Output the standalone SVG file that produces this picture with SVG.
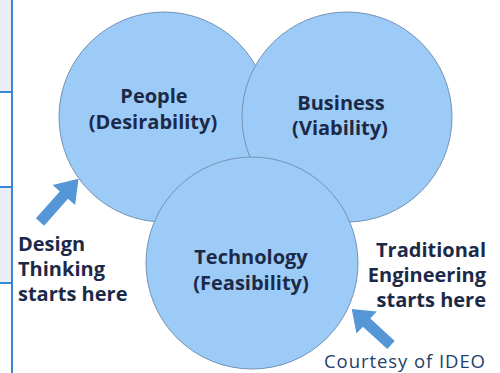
<svg xmlns="http://www.w3.org/2000/svg" width="500" height="373" viewBox="0 0 500 373">
  <style>
    .circle { fill: #9dcbf8; stroke: #7392b2; stroke-width: 1; }
    .lbl { font-family: "Open Sans", "Liberation Sans", sans-serif; font-weight: 700; font-size: 20px; fill: #1c2a48; }
    .mid { text-anchor: middle; }
    .end { text-anchor: end; }
    .credit { font-family: "Open Sans", "Liberation Sans", sans-serif; font-size: 18.5px; fill: #23406e; }
    .arrow { fill: #5596d6; }
    .panel { fill: #e8edf6; }
    .rule { stroke: #3a86d4; stroke-width: 2; fill: none; }
  </style>
  <defs>
    <polygon id="blockArrow" points="0,-5.5 36,-5.5 36,-15 58,0 36,15 36,5.5 0,5.5"/>
  </defs>

  <g id="side-panel">
    <rect class="panel" x="0" y="0" width="12" height="92"/>
    <rect class="panel" x="0" y="187" width="12" height="96"/>
    <line class="rule" x1="0" y1="92" x2="12" y2="92"/>
    <line class="rule" x1="0" y1="187" x2="12" y2="187"/>
    <line class="rule" x1="0" y1="283" x2="12" y2="283"/>
    <line class="rule" x1="12" y1="0" x2="12" y2="373"/>
  </g>

  <g id="people">
    <circle class="circle" cx="164" cy="117" r="105"/>
    <text class="lbl mid" x="154" y="103">People</text>
    <text class="lbl mid" x="153" y="129">(Desirability)</text>
  </g>

  <g id="business">
    <circle class="circle" cx="347" cy="117" r="105"/>
    <text class="lbl mid" x="341" y="110">Business</text>
    <text class="lbl mid" x="340" y="135">(Viability)</text>
  </g>

  <g id="technology">
    <circle class="circle" cx="252" cy="263" r="106"/>
    <text class="lbl mid" x="251" y="264">Technology</text>
    <text class="lbl mid" x="251" y="290">(Feasibility)</text>
  </g>

  <g id="connectors">
    <use href="#blockArrow" class="arrow" transform="translate(40,222) rotate(-48.4)"/>
    <use href="#blockArrow" class="arrow" transform="translate(391,345) rotate(-137.4) scale(0.92,1)"/>
  </g>

  <g id="design-thinking">
    <text class="lbl" x="18" y="251">Design</text>
    <text class="lbl" x="18" y="276">Thinking</text>
    <text class="lbl" x="18" y="301">starts here</text>
  </g>

  <g id="traditional-engineering">
    <text class="lbl end" x="486" y="257">Traditional</text>
    <text class="lbl end" x="486" y="282">Engineering</text>
    <text class="lbl end" x="486" y="307">starts here</text>
  </g>

  <g id="credit">
    <text class="credit" x="324" y="368" textLength="161" lengthAdjust="spacing">Courtesy of IDEO</text>
  </g>
</svg>
